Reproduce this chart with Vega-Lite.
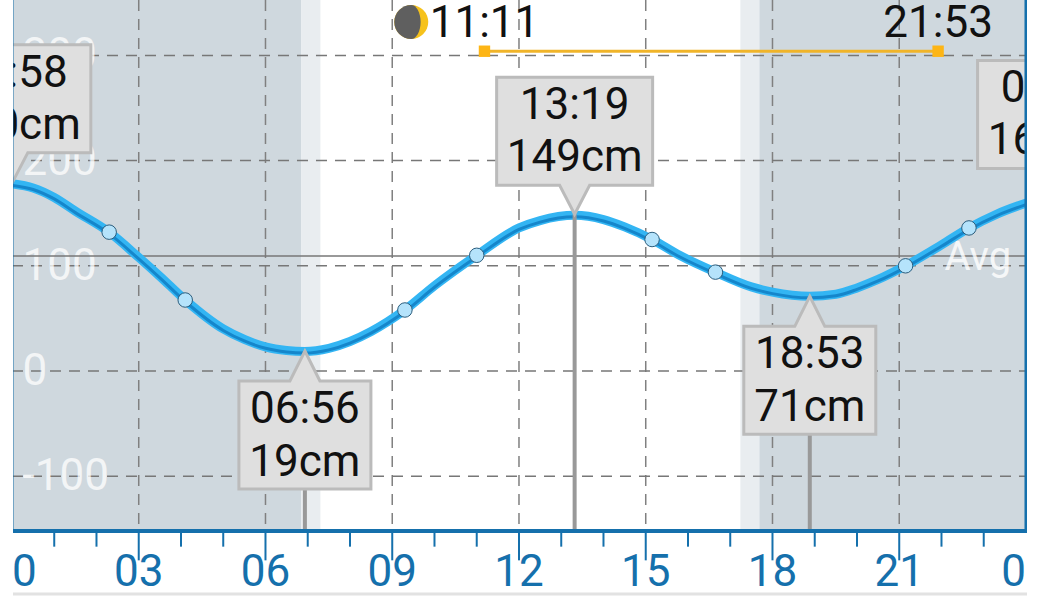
{"$schema":"https://vega.github.io/schema/vega-lite/v6.json","width":1014,"height":600,"autosize":"none","padding":{"left":13,"right":13,"top":0,"bottom":0},"background":"#ffffff","config":{"view":{"stroke":null},"text":{"font":"Roboto"}},
"datasets":{
"bands":[{"from":0,"to":6.85,"kind":"night"},{"from":6.85,"to":7.3,"kind":"twilight"},{"from":17.24,"to":17.69,"kind":"twilight"},{"from":17.69,"to":24.1,"kind":"night"}],
"vgrid":[{"hour":3},{"hour":6},{"hour":9},{"hour":12},{"hour":15},{"hour":18},{"hour":21}],
"hgrid":[{"cm":300,"label":"300"},{"cm":200,"label":"200"},{"cm":100,"label":"100"},{"cm":0,"label":"0"},{"cm":-100,"label":"-100"}],
"ticks":[{"hour":1},{"hour":2},{"hour":4},{"hour":5},{"hour":7},{"hour":8},{"hour":10},{"hour":11},{"hour":13},{"hour":14},{"hour":16},{"hour":17},{"hour":19},{"hour":20},{"hour":22},{"hour":23}],
"xlabels":[{"hour":0,"label":"00"},{"hour":3,"label":"03"},{"hour":6,"label":"06"},{"hour":9,"label":"09"},{"hour":12,"label":"12"},{"hour":15,"label":"15"},{"hour":18,"label":"18"},{"hour":21,"label":"21"},{"hour":24,"label":"00"}],
"curve":[{"hour":0,"cm":178},{"hour":0.5,"cm":174},{"hour":1,"cm":165},{"hour":1.5,"cm":152},{"hour":2.3,"cm":132},{"hour":3,"cm":108},{"hour":3.5,"cm":90},{"hour":4.1,"cm":67.5},{"hour":5,"cm":40},{"hour":5.5,"cm":30},{"hour":6,"cm":23},{"hour":6.5,"cm":19.5},{"hour":6.93,"cm":18.5},{"hour":7.5,"cm":21.5},{"hour":8,"cm":28},{"hour":8.5,"cm":37.5},{"hour":9.3,"cm":58},{"hour":10,"cm":81},{"hour":11,"cm":110},{"hour":12,"cm":136},{"hour":12.5,"cm":143},{"hour":13.32,"cm":148},{"hour":14,"cm":144},{"hour":14.5,"cm":137},{"hour":15.15,"cm":125},{"hour":15.8,"cm":110},{"hour":16.65,"cm":94},{"hour":17.5,"cm":80},{"hour":18,"cm":75},{"hour":18.88,"cm":71},{"hour":19.5,"cm":73},{"hour":20,"cm":79},{"hour":20.5,"cm":87},{"hour":21.15,"cm":100},{"hour":22,"cm":120},{"hour":22.65,"cm":136},{"hour":23.3,"cm":149},{"hour":24.1,"cm":161}],
"dots":[{"hour":2.3,"cm":132},{"hour":4.1,"cm":67.5},{"hour":9.3,"cm":58},{"hour":11,"cm":110},{"hour":15.15,"cm":125},{"hour":16.65,"cm":94},{"hour":21.15,"cm":100},{"hour":22.65,"cm":136}],
"tides":[{"hour":0.02,"cm":180,"time":"23:58","level":"180cm","kind":"high"},{"hour":6.933,"cm":19,"time":"06:56","level":"19cm","kind":"low"},{"hour":13.317,"cm":149,"time":"13:19","level":"149cm","kind":"high"},{"hour":18.883,"cm":71,"time":"18:53","level":"71cm","kind":"low"},{"hour":24.7,"cm":165,"time":"00:39","level":"165cm","kind":"high"}],
"moon":[{"hour":11.183,"end":21.92,"cm":304,"start_label":"11:11","end_label":"21:53","moon_hour":9.45,"moon_cm":331.7,"label_cm":330}]
},
"layer":[
{"data":{"name":"bands"},"mark":{"type":"rect","clip":true},"encoding":{"x":{"field":"from","type":"quantitative","scale":{"domain":[0.024,24.024],"nice":false,"zero":false},"axis":null},"x2":{"field":"to"},"y":{"datum":352.7,"type":"quantitative","scale":{"domain":[-217.7,352.7],"nice":false,"zero":false},"axis":null},"y2":{"datum":-152.2},"fill":{"field":"kind","type":"nominal","scale":{"domain":["night","twilight"],"range":["#cfd8de","#e9edf0"]},"legend":null}}},
{"data":{"name":"vgrid"},"mark":{"type":"rule","color":"#808080","strokeWidth":1.5,"strokeDash":[11,8]},"encoding":{"x":{"field":"hour","type":"quantitative"},"y":{"datum":352.7,"type":"quantitative"},"y2":{"datum":-152.2}}},
{"data":{"name":"hgrid"},"mark":{"type":"rule","color":"#777777","strokeWidth":1.5,"strokeDash":[11,8],"clip":true},"encoding":{"y":{"field":"cm","type":"quantitative"},"x":{"datum":0,"type":"quantitative"},"x2":{"datum":24}}},
{"data":{"name":"hgrid"},"mark":{"type":"text","align":"left","baseline":"middle","font":"Roboto","fontSize":44,"color":"#ffffff","opacity":0.75,"yOffset":1,"clip":true},"encoding":{"x":{"datum":0.25,"type":"quantitative"},"y":{"field":"cm","type":"quantitative"},"text":{"field":"label"}}},
{"data":{"values":[{"cm":109.3,"label":"Avg","hour":22.86}]},"layer":[
{"mark":{"type":"rule","color":"#777777","strokeWidth":1.5,"clip":true},"encoding":{"y":{"field":"cm","type":"quantitative"},"x":{"datum":0,"type":"quantitative"},"x2":{"datum":24}}},
{"mark":{"type":"text","align":"center","baseline":"middle","font":"Roboto","fontSize":40,"color":"#ffffff","opacity":0.8,"yOffset":2},"encoding":{"x":{"field":"hour","type":"quantitative"},"y":{"field":"cm","type":"quantitative"},"text":{"field":"label"}}}
]},
{"data":{"name":"curve"},"mark":{"type":"line","color":"#33b5f3","strokeWidth":9,"interpolate":"monotone","clip":true},"encoding":{"x":{"field":"hour","type":"quantitative"},"y":{"field":"cm","type":"quantitative"}}},
{"data":{"name":"curve"},"mark":{"type":"line","color":"#1586cb","strokeWidth":3,"yOffset":1.5,"interpolate":"monotone","clip":true},"encoding":{"x":{"field":"hour","type":"quantitative"},"y":{"field":"cm","type":"quantitative"}}},
{"data":{"name":"dots"},"mark":{"type":"point","filled":true,"fill":"#b5e3fb","stroke":"#2b5d7d","strokeWidth":1,"opacity":1,"size":210},"encoding":{"x":{"field":"hour","type":"quantitative"},"y":{"field":"cm","type":"quantitative"}}},
{"data":{"name":"tides"},"transform":[{"filter":"datum.kind === 'high' ? (datum.hour > 1 && datum.hour < 24) : true"}],"mark":{"type":"rule","color":"#999999","strokeWidth":4},"encoding":{"x":{"field":"hour","type":"quantitative"},"y":{"field":"cm","type":"quantitative"},"y2":{"datum":-152.2}}},
{"data":{"name":"tides"},"transform":[{"filter":"datum.kind === 'high'"}],"layer":[
{"mark":{"type":"point","shape":"M0 0 L-0.075 -0.145 L-0.39 -0.145 L-0.39 -0.685 L0.39 -0.685 L0.39 -0.145 L0.075 -0.145 Z","size":160000,"filled":true,"fill":"#dfdfdf","stroke":"#bbbbbb","strokeWidth":3,"opacity":1,"clip":true},"encoding":{"x":{"field":"hour","type":"quantitative"},"y":{"field":"cm","type":"quantitative"}}},
{"mark":{"type":"text","align":"center","baseline":"middle","font":"Roboto","fontSize":44,"color":"#111111","yOffset":-108,"clip":true},"encoding":{"x":{"field":"hour","type":"quantitative"},"y":{"field":"cm","type":"quantitative"},"text":{"field":"time"}}},
{"mark":{"type":"text","align":"center","baseline":"middle","font":"Roboto","fontSize":44,"color":"#111111","yOffset":-56,"clip":true},"encoding":{"x":{"field":"hour","type":"quantitative"},"y":{"field":"cm","type":"quantitative"},"text":{"field":"level"}}}
]},
{"data":{"name":"tides"},"transform":[{"filter":"datum.kind === 'low'"}],"layer":[
{"mark":{"type":"point","shape":"M0 0 L0.075 0.15 L0.33 0.15 L0.33 0.69 L-0.33 0.69 L-0.33 0.15 L-0.075 0.15 Z","size":160000,"filled":true,"fill":"#dfdfdf","stroke":"#bbbbbb","strokeWidth":3,"opacity":1,"clip":true},"encoding":{"x":{"field":"hour","type":"quantitative"},"y":{"field":"cm","type":"quantitative"}}},
{"mark":{"type":"text","align":"center","baseline":"middle","font":"Roboto","fontSize":44,"color":"#111111","yOffset":59,"clip":true},"encoding":{"x":{"field":"hour","type":"quantitative"},"y":{"field":"cm","type":"quantitative"},"text":{"field":"time"}}},
{"mark":{"type":"text","align":"center","baseline":"middle","font":"Roboto","fontSize":44,"color":"#111111","yOffset":112,"clip":true},"encoding":{"x":{"field":"hour","type":"quantitative"},"y":{"field":"cm","type":"quantitative"},"text":{"field":"level"}}}
]},
{"data":{"name":"moon"},"layer":[
{"mark":{"type":"rule","color":"#f0b429","strokeWidth":3},"encoding":{"x":{"field":"hour","type":"quantitative"},"x2":{"field":"end"},"y":{"field":"cm","type":"quantitative"}}},
{"mark":{"type":"point","shape":"square","filled":true,"fill":"#fdb515","opacity":1,"size":130},"encoding":{"x":{"field":"hour","type":"quantitative"},"y":{"field":"cm","type":"quantitative"}}},
{"mark":{"type":"point","shape":"square","filled":true,"fill":"#fdb515","opacity":1,"size":130},"encoding":{"x":{"field":"end","type":"quantitative"},"y":{"field":"cm","type":"quantitative"}}},
{"mark":{"type":"text","align":"center","baseline":"middle","font":"Roboto","fontSize":44,"color":"#111111"},"encoding":{"x":{"field":"hour","type":"quantitative"},"y":{"field":"label_cm","type":"quantitative"},"text":{"field":"start_label"}}},
{"mark":{"type":"text","align":"center","baseline":"middle","font":"Roboto","fontSize":44,"color":"#111111"},"encoding":{"x":{"field":"end","type":"quantitative"},"y":{"field":"label_cm","type":"quantitative"},"text":{"field":"end_label"}}},
{"mark":{"type":"point","shape":"circle","filled":true,"fill":"#f6c21c","opacity":1,"size":1156},"encoding":{"x":{"field":"moon_hour","type":"quantitative"},"y":{"field":"moon_cm","type":"quantitative"}}},
{"mark":{"type":"point","shape":"M0 -1 A1 1 0 0 0 0 1 A0.55 1 0 0 0 0 -1 Z","filled":true,"fill":"#5f5f5f","opacity":1,"size":1156},"encoding":{"x":{"field":"moon_hour","type":"quantitative"},"y":{"field":"moon_cm","type":"quantitative"}}}
]},
{"data":{"values":[{"hour":0},{"hour":24}]},"mark":{"type":"rule","color":"#1570ac","strokeWidth":3,"clip":true},"encoding":{"x":{"field":"hour","type":"quantitative"},"y":{"datum":352.7,"type":"quantitative"},"y2":{"datum":-152.2}}},
{"data":{"values":[{"cm":-152.2}]},"mark":{"type":"rule","color":"#1570ac","strokeWidth":4,"clip":true},"encoding":{"y":{"field":"cm","type":"quantitative"},"x":{"datum":0,"type":"quantitative"},"x2":{"datum":24.1}}},
{"data":{"name":"vgrid"},"mark":{"type":"rule","color":"#1570ac","strokeWidth":2},"encoding":{"x":{"field":"hour","type":"quantitative"},"y":{"datum":-152.2,"type":"quantitative"},"y2":{"datum":-180}}},
{"data":{"name":"ticks"},"mark":{"type":"rule","color":"#1570ac","strokeWidth":2},"encoding":{"x":{"field":"hour","type":"quantitative"},"y":{"datum":-152.2,"type":"quantitative"},"y2":{"datum":-167}}},
{"data":{"name":"xlabels"},"mark":{"type":"text","align":"center","baseline":"middle","font":"Roboto","fontSize":44,"color":"#1570ac","yOffset":1,"clip":true},"encoding":{"x":{"field":"hour","type":"quantitative"},"y":{"datum":-191,"type":"quantitative"},"text":{"field":"label"}}},
{"data":{"values":[{"cm":-212}]},"mark":{"type":"rule","color":"#e2e2e2","strokeWidth":3,"clip":true},"encoding":{"y":{"field":"cm","type":"quantitative"},"x":{"datum":0,"type":"quantitative"},"x2":{"datum":24.1}}}
],
"resolve":{"scale":{"x":"shared","y":"shared"}}}
